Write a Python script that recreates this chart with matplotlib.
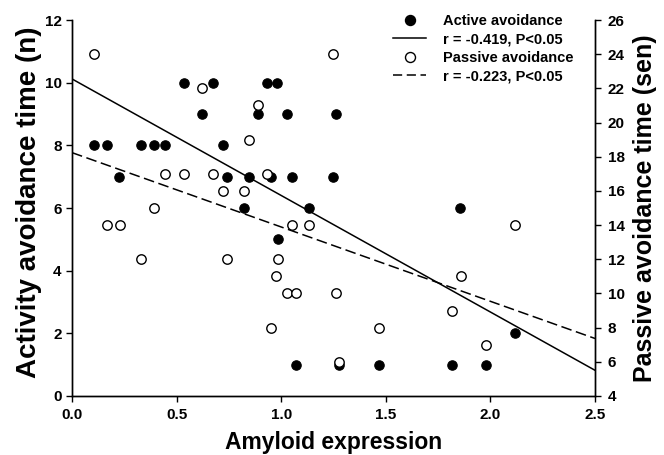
import numpy as np
import matplotlib
matplotlib.use("Agg")
import matplotlib.pyplot as plt
from matplotlib.lines import Line2D

plt.rcParams['font.family'] = ['Liberation Sans', 'DejaVu Sans']
plt.rcParams['font.weight'] = 'bold'

# active avoidance (left axis, n)
active_x = [0.107, 0.166, 0.226, 0.328, 0.394, 0.445, 0.537, 0.623, 0.675, 0.723,
            0.739, 0.824, 0.848, 0.888, 0.934, 0.950, 0.978, 0.986, 1.026, 1.050,
            1.071, 1.132, 1.249, 1.260, 1.278, 1.469, 1.815, 1.855, 1.979, 2.118]
active_y = [8, 8, 7, 8, 8, 8, 10, 9, 10, 8,
            7, 6, 7, 9, 10, 7, 10, 5, 9, 7,
            1, 6, 7, 9, 1, 1, 1, 6, 1, 2]

# passive avoidance (right axis, sec)
passive_x = [0.107, 0.166, 0.229, 0.328, 0.394, 0.445, 0.537, 0.623, 0.675, 0.720,
             0.739, 0.824, 0.848, 0.888, 0.934, 0.950, 0.975, 0.986, 1.026, 1.050,
             1.071, 1.134, 1.246, 1.260, 1.278, 1.469, 1.815, 1.858, 1.979, 2.118]
passive_y = [24, 14, 14, 12, 15, 17, 17, 22, 17, 16,
             12, 16, 19, 21, 17, 8, 11, 12, 10, 14,
             10, 14, 24, 10, 6, 8, 9, 11, 7, 14]

# fitted lines: (intercept, slope)
active_fit = (10.12, -3.72)
passive_fit = (18.24, -4.35)
fit_x = [0.0, 2.5]

fig = plt.figure(figsize=(6.64, 4.55), dpi=100)
ax = fig.add_axes([0.1084, 0.1297, 0.7877, 0.8263])
ax2 = ax.twinx()

ax.scatter(active_x, active_y, s=46, c='black', edgecolors='black', linewidths=0.8, zorder=3)
ax2.scatter(passive_x, passive_y, s=46, facecolors='white', edgecolors='black',
            linewidths=1.0, zorder=3)

fx = np.array(fit_x)
ax.plot(fx, active_fit[0] + active_fit[1] * fx, color='black', lw=1.1)
ax2.plot(fx, passive_fit[0] + passive_fit[1] * fx, color='black', lw=1.1,
         dashes=(7, 3))

ax.set_xlim(0, 2.5)
ax.set_ylim(0, 12)
ax2.set_ylim(4, 26)
ax.set_xticks([0.0, 0.5, 1.0, 1.5, 2.0, 2.5])
ax.set_xticklabels(['0.0', '0.5', '1.0', '1.5', '2.0', '2.5'])
ax.set_yticks(range(0, 13, 2))
ax2.set_yticks(range(4, 27, 2))

for a in (ax, ax2):
    a.spines['top'].set_visible(False)
    for sp in a.spines.values():
        sp.set_linewidth(1.0)
    a.tick_params(direction='out', length=4, width=1, labelsize=11)
ax.tick_params(axis='y', pad=3.5)
ax.tick_params(axis='x', pad=5)
ax2.tick_params(axis='y', pad=5)

ax.set_xlabel('Amyloid expression', fontsize=16.5, fontweight='bold')
ax.xaxis.set_label_coords(0.5, -0.093)
ax.set_ylabel('Activity avoidance time (n)', fontsize=20, fontweight='bold')
ax.yaxis.set_label_coords(-0.0574, 0.515)
ax2.set_ylabel('Passive avoidance time (sen)', fontsize=18, fontweight='bold')
ax2.yaxis.set_label_coords(1.0727, 0.5)

handles = [
    Line2D([], [], ls='none', marker='o', ms=7.2, mfc='black', mec='black'),
    Line2D([], [], color='black', lw=1.1),
    Line2D([], [], ls='none', marker='o', ms=7.2, mfc='white', mec='black', mew=1.0),
    Line2D([], [], color='black', lw=1.1, dashes=(6, 3)),
]
labels = ['Active avoidance', 'r = -0.419, P<0.05',
          'Passive avoidance', 'r = -0.223, P<0.05']
leg = fig.legend(handles, labels, loc='upper left', bbox_to_anchor=(0.592, 0.969),
                 bbox_transform=fig.transFigure, frameon=False, fontsize=10.5,
                 handlelength=2.28, handletextpad=1.15, labelspacing=0.3,
                 borderpad=0, borderaxespad=0)
for t in leg.get_texts():
    t.set_fontweight('bold')

fig.savefig('out.png', dpi=100)
